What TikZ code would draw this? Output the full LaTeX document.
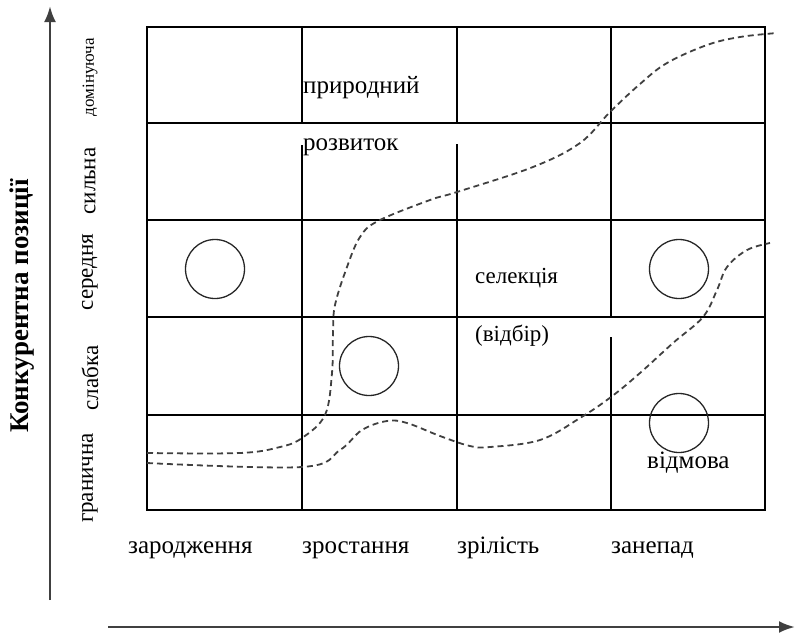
\documentclass[tikz,border=0pt]{standalone}
\usepackage{fontspec}
\setmainfont{Liberation Serif}
\usetikzlibrary{arrows.meta}

\begin{document}
\begin{tikzpicture}[x=1pt, y=-1pt,
    lbl/.style={anchor=base west, inner sep=0pt, font=\fontsize{25}{28}\selectfont},
    rowlbl/.style={rotate=90, inner sep=0pt, font=\fontsize{23}{26}\selectfont},
    firm/.style={circle, draw=black!85, line width=1.3pt, minimum size=59pt, inner sep=0pt},
    curve/.style={dash pattern=on 6pt off 4pt, line width=1.8pt, black!75},
    cell/.style={line width=1.6pt}]

    \useasboundingbox (0,0) rectangle (795,633);

    % Axis
    \coordinate (yb) at (50,600);
    \coordinate (yt) at (50,6);
    \coordinate (xl) at (108,627);
    \coordinate (xr) at (795,627);
    \draw[-{Latex[length=16pt,width=12pt]}, line width=2.6pt, black!75] (yb) -- (yt);
    \draw[-{Latex[length=16pt,width=12pt]}, line width=2.6pt, black!75] (xl) -- (xr);
    \node[rotate=90, font=\bfseries\fontsize{27}{30}\selectfont] (pos) at (22,306) {Конкурентна позиції};

    % Grid
    \draw[cell] (147,27) rectangle (765,510);
    \foreach \y in {123,220,317,415}
        \draw[cell] (147,\y) -- (765,\y);
    \draw[cell] (302,27) -- (302,123) (302,145) -- (302,510);
    \draw[cell] (457,27) -- (457,123) (457,144) -- (457,510);
    \draw[cell] (611,27) -- (611,317) (611,337) -- (611,510);

    % Row labels
    \node[rowlbl, font=\fontsize{17}{20}\selectfont] (dom) at (90,77) {домінуюча};
    \node[rowlbl] (strong) at (90,181) {сильна};
    \node[rowlbl] (mid) at (90,272) {середня};
    \node[rowlbl] (weak) at (90,378) {слабка};
    \node[rowlbl] (edge) at (90,478) {гранична};

    % Stage labels
    \node[lbl] (birth) at (128,553) {зародження};
    \node[lbl] (growth) at (302,553) {зростання};
    \node[lbl] (mature) at (457,553) {зрілість};
    \node[lbl] (decline) at (611,553) {занепад};

    % Texts in the cells
    \node[lbl] (nat) at (303,93) {природний};
    \node[lbl] (dev) at (303,150) {розвиток};
    \node[lbl, font=\fontsize{23}{26}\selectfont] (sel) at (475,283) {селекція};
    \node[lbl, font=\fontsize{23}{26}\selectfont] (pick) at (475,341) {(відбір)};
    \node[lbl] (rej) at (647,468) {відмова};

    % Firms
    \node[firm] (f1) at (215,269) {};
    \node[firm] (f2) at (369,366) {};
    \node[firm] (f3) at (679,269) {};
    \node[firm] (f4) at (679,423) {};

    % Paths
    \draw[curve] plot[smooth, tension=0.6] coordinates {(147,453) (240,453) (280,447) (302,438) (325,415)
        (332,373) (333,333) (335,305) (347,267) (360,237) (378,221) (430,200) (457,192) (533,167) (580,143)
        (610,112) (640,84) (667,63) (707,45) (740,37) (777,33)};
    \draw[curve] plot[smooth, tension=0.6] coordinates {(147,463) (302,467) (340,450) (362,430) (387,421)
        (407,423) (440,436) (470,446) (490,447) (540,440) (580,418) (611,397) (640,373) (673,343) (703,317)
        (717,290) (727,267) (747,250) (770,243)};
\end{tikzpicture}
\end{document}
